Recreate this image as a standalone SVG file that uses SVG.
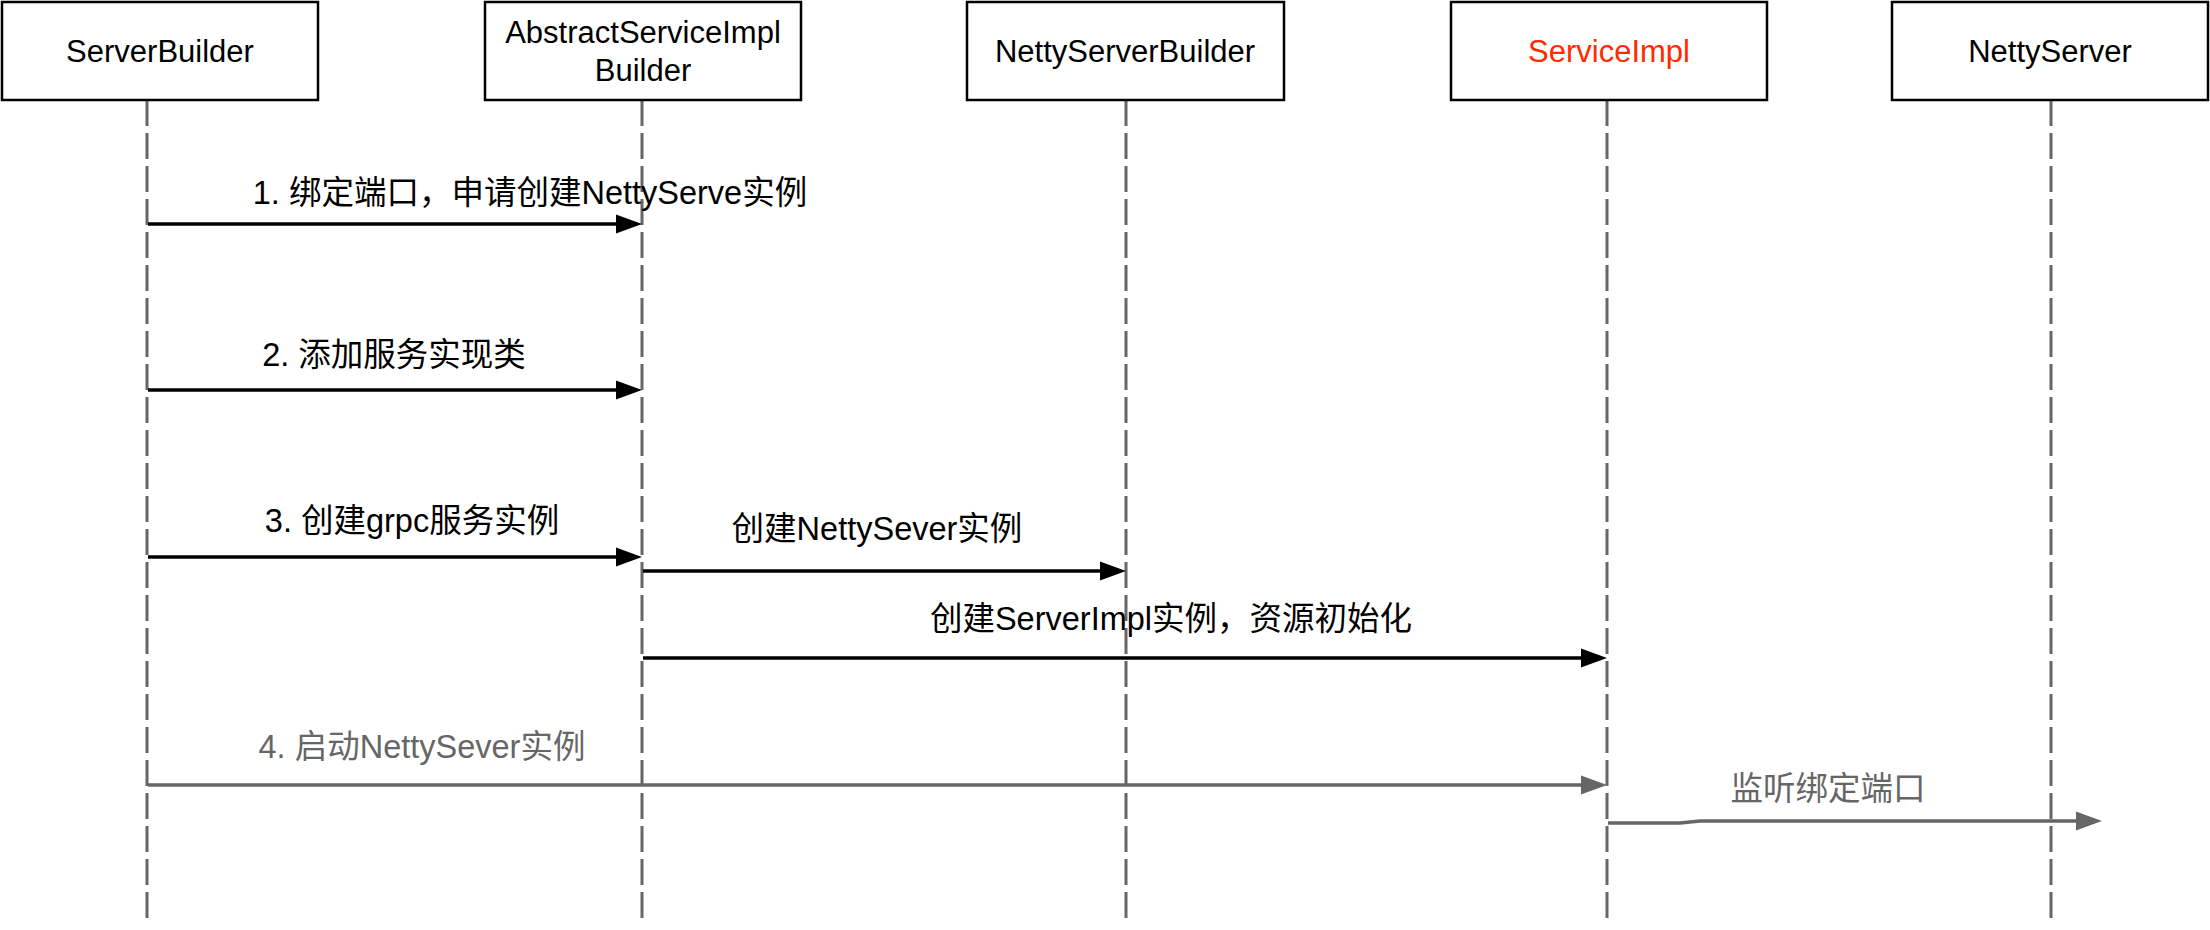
<svg xmlns="http://www.w3.org/2000/svg" width="2210" height="930" viewBox="0 0 2210 930">
<style>
.box{fill:#fff;stroke:#000;stroke-width:2.5}
.nt{font-family:"Liberation Sans","Noto Sans CJK SC",sans-serif;font-size:31px;fill:#000;text-anchor:middle}
.lt{font-family:"Liberation Sans","Noto Sans CJK SC",sans-serif;font-size:32.5px;fill:#000;text-anchor:middle}
.gray{fill:#666}
.life{stroke:#666;stroke-width:3;stroke-dasharray:26 7;fill:none}
.msg{stroke:#000;stroke-width:3.5;fill:none}
.msgg{stroke:#666;stroke-width:3.5;fill:none}
</style>
<defs>
<marker id="ah" markerUnits="userSpaceOnUse" markerWidth="28" markerHeight="20" viewBox="0 0 28 20" refX="2" refY="10" orient="auto">
<path d="M0,0.5 L26,10 L0,19.5 z" fill="#000"/>
</marker>
<marker id="ahg" markerUnits="userSpaceOnUse" markerWidth="28" markerHeight="20" viewBox="0 0 28 20" refX="2" refY="10" orient="auto">
<path d="M0,0.5 L26,10 L0,19.5 z" fill="#666"/>
</marker>
</defs>
<rect width="2210" height="930" fill="#fff"/>
<g id="lifelines">
<line class="life" x1="147" y1="100" x2="147" y2="925"/>
<line class="life" x1="642" y1="100" x2="642" y2="925"/>
<line class="life" x1="1126" y1="100" x2="1126" y2="925"/>
<line class="life" x1="1607" y1="100" x2="1607" y2="925"/>
<line class="life" x1="2051" y1="100" x2="2051" y2="925"/>
</g>
<g id="node-serverbuilder">
<rect class="box" x="2" y="2" width="316" height="98"/>
<text class="nt" x="160" y="62">ServerBuilder</text>
</g>
<g id="node-abstractserviceimplbuilder">
<rect class="box" x="485" y="2" width="316" height="98"/>
<text class="nt" x="643" y="43">AbstractServiceImpl</text>
<text class="nt" x="643" y="81">Builder</text>
</g>
<g id="node-nettyserverbuilder">
<rect class="box" x="967" y="2" width="317" height="98"/>
<text class="nt" x="1125" y="62">NettyServerBuilder</text>
</g>
<g id="node-serviceimpl">
<rect class="box" x="1451" y="2" width="316" height="98"/>
<text class="nt" x="1609" y="62" style="fill:#ff2a00">ServiceImpl</text>
</g>
<g id="node-nettyserver">
<rect class="box" x="1892" y="2" width="316" height="98"/>
<text class="nt" x="2050" y="62">NettyServer</text>
</g>
<g id="connectors">
<line class="msg" x1="148" y1="224" x2="618" y2="224" marker-end="url(#ah)"/>
<text class="lt" x="530" y="204">1. 绑定端口，申请创建NettyServe实例</text>
<line class="msg" x1="148" y1="390" x2="618" y2="390" marker-end="url(#ah)"/>
<text class="lt" x="394" y="366">2. 添加服务实现类</text>
<line class="msg" x1="148" y1="557" x2="618" y2="557" marker-end="url(#ah)"/>
<text class="lt" x="412" y="532">3. 创建grpc服务实例</text>
<line class="msg" x1="643" y1="571" x2="1102" y2="571" marker-end="url(#ah)"/>
<text class="lt" x="877" y="540">创建NettySever实例</text>
<line class="msg" x1="643" y1="658" x2="1583" y2="658" marker-end="url(#ah)"/>
<text class="lt" x="1171" y="630">创建ServerImpl实例，资源初始化</text>
<line class="msgg" x1="148" y1="785" x2="1583" y2="785" marker-end="url(#ahg)"/>
<text class="lt gray" x="422" y="758">4. 启动NettySever实例</text>
<path class="msgg" d="M1608,823 L1680,823 L1700,821 L2078,821" marker-end="url(#ahg)"/>
<text class="lt gray" x="1828" y="800">监听绑定端口</text>
</g>
</svg>
